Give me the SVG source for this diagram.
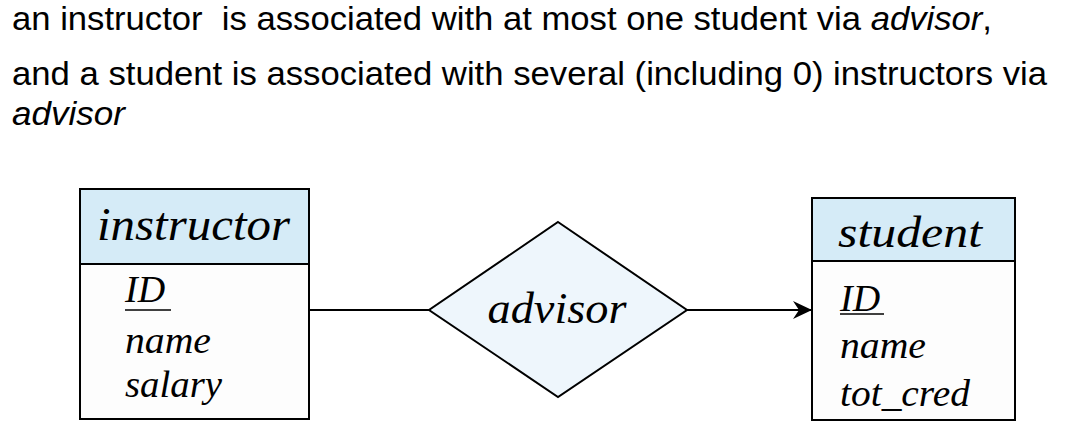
<svg xmlns="http://www.w3.org/2000/svg" width="1088" height="439" viewBox="0 0 1088 439">
<style>
.cap{font-family:"Liberation Sans",Arial,sans-serif;font-size:33.5px;fill:#000;white-space:pre}
.ent{font-family:"Liberation Serif","Times New Roman",serif;font-style:italic;fill:#000}
.hdr{fill:#d5ebf7;stroke:#000;stroke-width:2}
.body{fill:#fdfdfd;stroke:#000;stroke-width:2}
.ln{stroke:#000;stroke-width:2;fill:none}
</style>
<defs>
<marker id="arr" markerUnits="userSpaceOnUse" markerWidth="22" markerHeight="22" refX="19" refY="10" orient="auto">
<path d="M0,1 L19,10 L0,19 L6,10 Z" fill="#000"/>
</marker>
</defs>
<g id="caption">
<text class="cap" x="12" y="30" xml:space="preserve" textLength="980" lengthAdjust="spacingAndGlyphs">an instructor  is associated with at most one student via <tspan font-style="italic">advisor</tspan>,</text>
<text class="cap" x="12" y="85" textLength="1035" lengthAdjust="spacingAndGlyphs">and a student is associated with several (including 0) instructors via</text>
<text class="cap" x="12" y="125" font-style="italic" textLength="113" lengthAdjust="spacingAndGlyphs">advisor</text>
</g>
<g id="connectors">
<line class="ln" x1="309" y1="310" x2="429" y2="310"/>
<line class="ln" x1="687" y1="310" x2="812" y2="310" marker-end="url(#arr)"/>
</g>
<g id="instructor">
<rect class="body" x="80" y="264" width="229" height="155"/>
<rect class="hdr" x="80" y="189" width="229" height="75"/>
<text class="ent" x="97" y="240" font-size="46" textLength="193" lengthAdjust="spacingAndGlyphs">instructor</text>
<text class="ent" x="125" y="302" font-size="38">ID</text>
<line x1="125" y1="310" x2="171" y2="310" stroke="#000" stroke-width="1.5"/>
<text class="ent" x="125" y="353" font-size="38" textLength="86" lengthAdjust="spacingAndGlyphs">name</text>
<text class="ent" x="125" y="397" font-size="38" textLength="97" lengthAdjust="spacingAndGlyphs">salary</text>
</g>
<g id="advisor">
<polygon points="558,222 687,310 558,397 429,310" fill="#eef6fc" stroke="#000" stroke-width="2"/>
<text class="ent" x="557" y="323" font-size="44" text-anchor="middle" textLength="139" lengthAdjust="spacingAndGlyphs">advisor</text>
</g>
<g id="student">
<rect class="body" x="812" y="261" width="203" height="159"/>
<rect class="hdr" x="812" y="198" width="203" height="63"/>
<text class="ent" x="838" y="247" font-size="44" textLength="144" lengthAdjust="spacingAndGlyphs">student</text>
<text class="ent" x="840" y="311" font-size="38">ID</text>
<line x1="840" y1="314" x2="884" y2="314" stroke="#000" stroke-width="1.5"/>
<text class="ent" x="840" y="358" font-size="38" textLength="86" lengthAdjust="spacingAndGlyphs">name</text>
<text class="ent" x="840" y="406" font-size="38" textLength="130" lengthAdjust="spacingAndGlyphs">tot_cred</text>
</g>
</svg>
